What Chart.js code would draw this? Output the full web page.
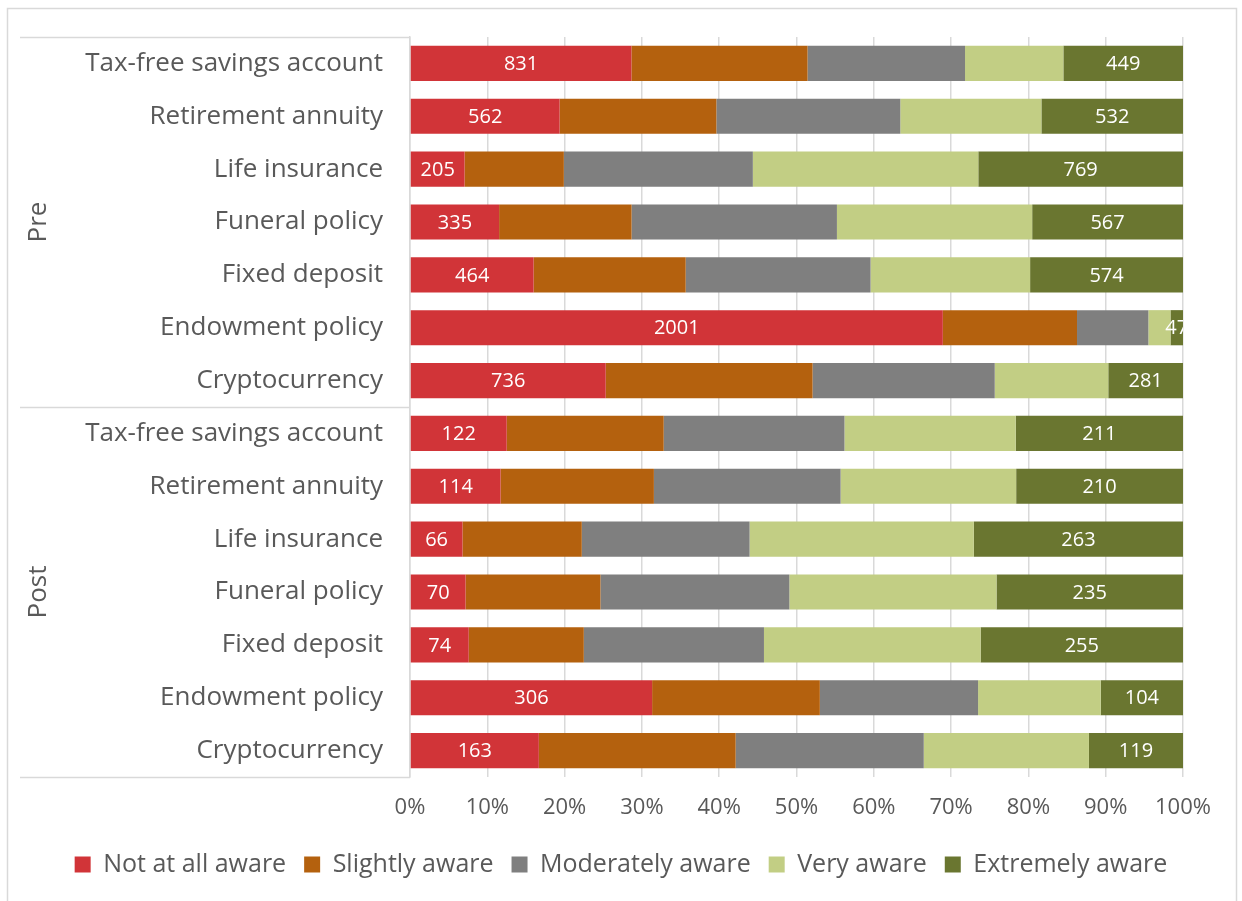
<!DOCTYPE html>
<html>
<head>
<meta charset="utf-8">
<script src="https://cdn.jsdelivr.net/npm/chart.js@4.4.1/dist/chart.umd.min.js"></script>
<style>
  html, body { margin: 0; padding: 0; background: #ffffff; }
  #wrap { position: absolute; left: 0; top: 0; width: 1242px; height: 901px; }
</style>
</head>
<body>
<div id="wrap"><canvas id="chart" width="1242" height="901"></canvas></div>
<script>
// Financial products, listed once per survey phase (Pre block, then Post block)
const products = ['Tax-free savings account', 'Retirement annuity', 'Life insurance',
                  'Funeral policy', 'Fixed deposit', 'Endowment policy', 'Cryptocurrency'];
const phases = ['Pre', 'Post'];
const levels = ['Not at all aware', 'Slightly aware', 'Moderately aware', 'Very aware', 'Extremely aware'];

// Respondent counts per awareness level (7 Pre rows followed by 7 Post rows)
const notAtAll   = [831, 562, 205, 335, 464, 2001, 736,   122, 114,  66,  70,  74, 306, 163];
const slightly   = [661, 589, 373, 498, 571,  504, 778,   198, 193, 150, 170, 145, 212, 249];
const moderately = [591, 691, 710, 772, 694,  268, 685,   228, 235, 211, 238, 227, 200, 238];
const very       = [369, 530, 847, 734, 599,   83, 427,   216, 221, 282, 261, 273, 155, 209];
const extremely  = [449, 532, 769, 567, 574,   47, 281,   211, 210, 263, 235, 255, 104, 119];

const xTicks = [0, 10, 20, 30, 40, 50, 60, 70, 80, 90, 100];

const colors = ['#D13438', '#B4610E', '#7F7F7F', '#C2CE84', '#6A7630'];
const textGray = '#595959';
const lineGray = '#D9D9D9';
const FONT = "'Open Sans', 'Noto Sans', sans-serif";

const series = [notAtAll, slightly, moderately, very, extremely];
const rowLabels = phases.flatMap(() => products);
const totals = rowLabels.map((_, i) => series.reduce((s, arr) => s + arr[i], 0));

const datasets = series.map((arr, k) => ({
  label: levels[k],
  data: arr.map((v, i) => v / totals[i] * 100),
  counts: arr,
  backgroundColor: colors[k],
  borderWidth: 0,
  barPercentage: 0.665,
  categoryPercentage: 1.0,
  showCount: (k === 0 || k === series.length - 1)
}));

// Outer frame around the chart
const framePlugin = {
  id: 'frame',
  beforeDraw(chart) {
    const ctx = chart.ctx;
    ctx.save();
    ctx.strokeStyle = lineGray;
    ctx.lineWidth = 1.5;
    ctx.strokeRect(7.5, 8.5, 1229, 905);
    ctx.restore();
  }
};

// Counts written inside the first and last segment of every bar
const countLabels = {
  id: 'countLabels',
  afterDatasetsDraw(chart) {
    const ctx = chart.ctx;
    const area = chart.chartArea;
    ctx.save();
    ctx.beginPath();
    ctx.rect(area.left, area.top, area.right - area.left, area.bottom - area.top);
    ctx.clip();
    ctx.fillStyle = '#FFFFFF';
    ctx.font = `20px ${FONT}`;
    ctx.textAlign = 'center';
    ctx.textBaseline = 'middle';
    chart.data.datasets.forEach((ds, di) => {
      if (!ds.showCount) return;
      chart.getDatasetMeta(di).data.forEach((bar, i) => {
        const cx = (bar.x + bar.base) / 2;
        ctx.fillText(String(ds.counts[i]), cx, bar.y + 1);
      });
    });
    ctx.restore();
  }
};

// Phase grouping on the category axis: separator rules and rotated phase names
const phaseGroups = {
  id: 'phaseGroups',
  afterDraw(chart) {
    const ctx = chart.ctx;
    const y = chart.scales.y;
    const area = chart.chartArea;
    const n = products.length;
    const bounds = [area.top];
    for (let g = 1; g < phases.length; g++) {
      bounds.push((y.getPixelForValue(g * n - 1) + y.getPixelForValue(g * n)) / 2);
    }
    bounds.push(area.bottom);
    ctx.save();
    ctx.strokeStyle = lineGray;
    ctx.lineWidth = 1.5;
    bounds.forEach(b => {
      ctx.beginPath();
      ctx.moveTo(20, Math.round(b) + 0.5);
      ctx.lineTo(area.left, Math.round(b) + 0.5);
      ctx.stroke();
    });
    ctx.fillStyle = textGray;
    ctx.font = `26px ${FONT}`;
    ctx.textAlign = 'center';
    ctx.textBaseline = 'middle';
    phases.forEach((p, g) => {
      const cy = (bounds[g] + bounds[g + 1]) / 2;
      ctx.save();
      ctx.translate(39, cy);
      ctx.rotate(-Math.PI / 2);
      ctx.fillText(p, 0, 0);
      ctx.restore();
    });
    ctx.restore();
  }
};

new Chart(document.getElementById('chart'), {
  type: 'bar',
  data: { labels: rowLabels, datasets },
  options: {
    indexAxis: 'y',
    responsive: false,
    animation: false,
    devicePixelRatio: 1,
    layout: { padding: { top: 37, right: 0, bottom: 14, left: 0 } },
    scales: {
      x: {
        stacked: true,
        min: 0,
        max: 100,
        afterBuildTicks(scale) { scale.ticks = xTicks.map(v => ({ value: v })); },
        afterFit(scale) {
          scale.height = 57;
          scale.paddingLeft = 0;
          scale.paddingRight = 59;
        },
        ticks: {
          color: textGray,
          font: { family: FONT, size: 22 },
          padding: 18,
          maxRotation: 0,
          callback: v => v + '%'
        },
        grid: { color: lineGray, lineWidth: 1.5, drawTicks: false },
        border: { display: false }
      },
      y: {
        stacked: true,
        afterFit(scale) {
          scale.width = 410;
          scale.paddingTop = 0;
          scale.paddingBottom = 0;
        },
        ticks: {
          color: textGray,
          font: { family: FONT, size: 26 },
          padding: 27,
          autoSkip: false
        },
        grid: { display: false, drawTicks: false },
        border: { display: true, color: lineGray, width: 1.5 }
      }
    },
    plugins: {
      legend: {
        position: 'bottom',
        labels: {
          color: textGray,
          font: { family: FONT, size: 25 },
          boxWidth: 16,
          boxHeight: 16,
          padding: 18
        }
      },
      tooltip: { enabled: false }
    }
  },
  plugins: [framePlugin, countLabels, phaseGroups]
});
</script>
</body>
</html>
